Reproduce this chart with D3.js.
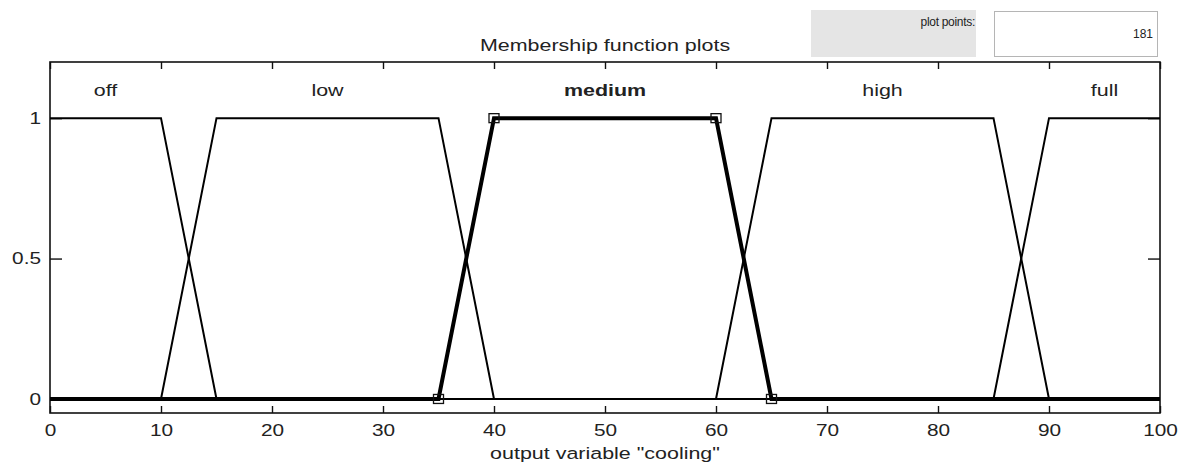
<!DOCTYPE html>
<html>
<head>
<meta charset="utf-8">
<script src="https://cdn.jsdelivr.net/npm/d3@7"></script>
<style>
  body { margin: 0; background: #fff; }
  svg { display: block; font-family: "Liberation Sans", Arial, sans-serif; }
  .frame { fill: none; stroke: #111; stroke-width: 1.6; }
  .axis line { stroke: #111; stroke-width: 1.4; }
  .axis text { font-size: 16px; fill: #222; }
  .mf { fill: none; stroke: #000; stroke-width: 2; stroke-linejoin: miter; }
  .mf.sel { stroke-width: 4; }
  .marker { fill: none; stroke: #111; stroke-width: 1.3; }
</style>
</head>
<body>
<svg id="chart" width="1190" height="468"></svg>
<script>
// membership functions of output variable "cooling" (trapezoid break points)
const mfNames = ["off", "low", "medium", "high", "full"];
const offX = [0, 10, 15, 100],            offY = [1, 1, 0, 0];
const lowX = [0, 10, 15, 35, 40, 100],    lowY = [0, 0, 1, 1, 0, 0];
const mediumX = [0, 35, 40, 60, 65, 100], mediumY = [0, 0, 1, 1, 0, 0];
const highX = [0, 60, 65, 85, 90, 100],   highY = [0, 0, 1, 1, 0, 0];
const fullX = [0, 85, 90, 100],           fullY = [0, 0, 1, 1];
const selectedMf = "medium";

const xTicks = [0, 10, 20, 30, 40, 50, 60, 70, 80, 90, 100];
const yTicks = [0, 0.5, 1];
const yTickLabels = ["0", "0.5", "1"];
const labelLevel = 1.1;
const plotPoints = "181";

const series = [
  {name: mfNames[0], xs: offX, ys: offY},
  {name: mfNames[1], xs: lowX, ys: lowY},
  {name: mfNames[2], xs: mediumX, ys: mediumY},
  {name: mfNames[3], xs: highX, ys: highY},
  {name: mfNames[4], xs: fullX, ys: fullY}
].map(s => ({name: s.name, pts: s.xs.map((x, i) => [x, s.ys[i]])}));

const pLeft = 50, pRight = 1160, pTop = 62, pBottom = 413;
const sx = 1.3; // the original picture is stretched sideways

const x = d3.scaleLinear().domain([0, 100]).range([pLeft, pRight]);
const y = d3.scaleLinear().domain([-0.05, 1.2]).range([pBottom, pTop]);

const svg = d3.select("#chart");

// plot points control
svg.append("rect").attr("x", 811).attr("y", 10).attr("width", 165).attr("height", 47)
  .attr("fill", "#e5e5e5");
svg.append("text").attr("x", 975).attr("y", 26).attr("text-anchor", "end")
  .attr("font-size", 12).attr("fill", "#222").attr("letter-spacing", -0.3).text("plot points:");
svg.append("rect").attr("x", 994.5).attr("y", 11.5).attr("width", 163).attr("height", 45)
  .attr("fill", "#fff").attr("stroke", "#b5b5b5");
svg.append("text").attr("x", 1153).attr("y", 38).attr("text-anchor", "end")
  .attr("font-size", 12).attr("fill", "#222").text(plotPoints);

// title
svg.append("text").attr("text-anchor", "middle").attr("font-size", 16.5).attr("fill", "#222")
  .attr("transform", `translate(${(pLeft + pRight) / 2},51) scale(${sx},1)`)
  .text("Membership function plots");

// axes with inward ticks on all four sides
const gx = svg.append("g").attr("class", "axis").attr("transform", `translate(0,${pBottom})`)
  .call(d3.axisBottom(x).tickValues(xTicks).tickSizeInner(-7).tickSizeOuter(0).tickPadding(12));
gx.selectAll("text").attr("transform", `scale(${sx},1)`);

svg.append("g").attr("class", "axis").attr("transform", `translate(0,${pTop})`)
  .call(d3.axisTop(x).tickValues(xTicks).tickSizeInner(-7).tickSizeOuter(0).tickFormat(""));

const gy = svg.append("g").attr("class", "axis").attr("transform", `translate(${pLeft},0)`)
  .call(d3.axisLeft(y).tickValues(yTicks).tickSizeInner(-12).tickSizeOuter(0).tickPadding(9)
    .tickFormat((d, i) => yTickLabels[i]));
gy.selectAll("text").attr("transform", `scale(${sx},1)`).attr("x", -9 / sx);

svg.append("g").attr("class", "axis").attr("transform", `translate(${pRight},0)`)
  .call(d3.axisRight(y).tickValues(yTicks).tickSizeInner(-12).tickSizeOuter(0).tickFormat(""));

svg.selectAll(".axis .domain").remove();

svg.append("rect").attr("class", "frame")
  .attr("x", pLeft).attr("y", pTop).attr("width", pRight - pLeft).attr("height", pBottom - pTop);

// x axis title
svg.append("text").attr("text-anchor", "middle").attr("font-size", 16.5).attr("fill", "#222")
  .attr("transform", `translate(${(pLeft + pRight) / 2},459) scale(${sx},1)`)
  .text('output variable "cooling"');

// membership function lines, selected one last and thick
const line = d3.line().x(d => x(d[0])).y(d => y(d[1]));
const ordered = series.filter(s => s.name !== selectedMf).concat(series.filter(s => s.name === selectedMf));
svg.selectAll("path.mf").data(ordered).enter().append("path")
  .attr("class", d => d.name === selectedMf ? "mf sel" : "mf")
  .attr("d", d => line(d.pts));

// square handles on the selected function's break points
const sel = series.find(s => s.name === selectedMf);
svg.selectAll("rect.marker").data(sel.pts.slice(1, -1)).enter().append("rect")
  .attr("class", "marker")
  .attr("x", d => x(d[0]) - 5).attr("y", d => y(d[1]) - 4.5)
  .attr("width", 10).attr("height", 9);

// names above each plateau
svg.selectAll("text.mfname").data(series).enter().append("text")
  .attr("class", "mfname")
  .attr("text-anchor", "middle").attr("font-size", 16.5).attr("fill", "#222")
  .attr("font-weight", d => d.name === selectedMf ? "bold" : "normal")
  .attr("transform", d => {
    const flat = d.pts.filter(p => p[1] === 1).map(p => p[0]);
    const cx = (d3.min(flat) + d3.max(flat)) / 2;
    return `translate(${x(cx)},${y(labelLevel) + 6}) scale(${sx},1)`;
  })
  .text(d => d.name);
</script>
</body>
</html>
